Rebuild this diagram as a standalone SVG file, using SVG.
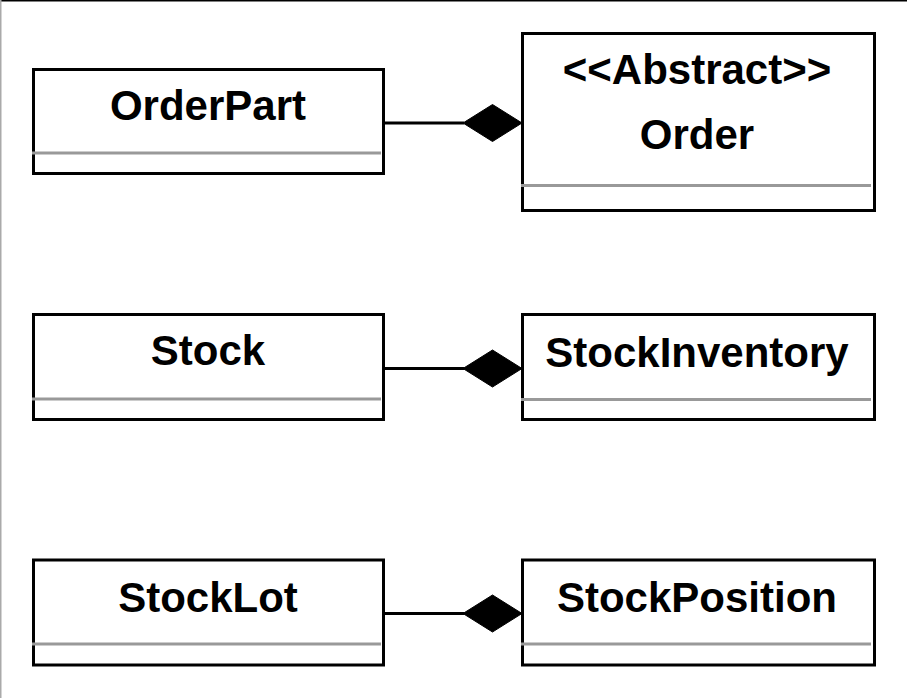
<svg xmlns="http://www.w3.org/2000/svg" width="907" height="698" viewBox="0 0 907 698">
<style>
.box{fill:#fff;stroke:#000;stroke-width:3}
.sep{stroke:#999;stroke-width:3}
.lbl{font-family:"Liberation Sans",Arial,Helvetica,sans-serif;font-weight:bold;font-size:42px;fill:#000;text-anchor:middle}
.conn{stroke:#000;stroke-width:3;fill:none}
.dia{fill:#000;stroke:#000;stroke-width:1}
</style>
<rect x="0" y="0" width="907" height="698" fill="#fff"/>
<line x1="0" y1="0.75" x2="907" y2="0.75" stroke="#000" stroke-width="1.5"/>
<line x1="0.75" y1="0" x2="0.75" y2="698" stroke="#aaa" stroke-width="1.5"/>
<g id="connectors">
<line class="conn" x1="385" y1="123" x2="464" y2="123"/>
<polygon class="dia" points="463,123 492.5,104.5 522,123 492.5,141.5"/>
<line class="conn" x1="385" y1="368.5" x2="464" y2="368.5"/>
<polygon class="dia" points="463,368.5 492.5,350 522,368.5 492.5,387"/>
<line class="conn" x1="385" y1="613.5" x2="464" y2="613.5"/>
<polygon class="dia" points="463,613.5 492.5,595 522,613.5 492.5,632"/>
</g>
<g id="OrderPart">
<rect class="box" x="33.5" y="69.5" width="350" height="104"/>
<line class="sep" x1="32" y1="153" x2="381" y2="153"/>
<text class="lbl" x="208" y="120">OrderPart</text>
</g>
<g id="Order">
<rect class="box" x="522.5" y="33.5" width="352" height="177"/>
<line class="sep" x1="521" y1="185.5" x2="871" y2="185.5"/>
<text class="lbl" x="697" y="84">&lt;&lt;Abstract&gt;&gt;</text>
<text class="lbl" x="697" y="149">Order</text>
</g>
<g id="Stock">
<rect class="box" x="33.5" y="314.5" width="350" height="105"/>
<line class="sep" x1="32" y1="399" x2="381" y2="399"/>
<text class="lbl" x="208" y="364.5">Stock</text>
</g>
<g id="StockInventory">
<rect class="box" x="522.5" y="314.5" width="352" height="105"/>
<line class="sep" x1="521" y1="399.5" x2="871" y2="399.5"/>
<text class="lbl" x="697" y="366.5">StockInventory</text>
</g>
<g id="StockLot">
<rect class="box" x="33.5" y="560" width="350" height="105"/>
<line class="sep" x1="32" y1="644" x2="381" y2="644"/>
<text class="lbl" x="208" y="611.5">StockLot</text>
</g>
<g id="StockPosition">
<rect class="box" x="522.5" y="560" width="352" height="105"/>
<line class="sep" x1="521" y1="644" x2="871" y2="644"/>
<text class="lbl" x="697" y="612">StockPosition</text>
</g>
</svg>
